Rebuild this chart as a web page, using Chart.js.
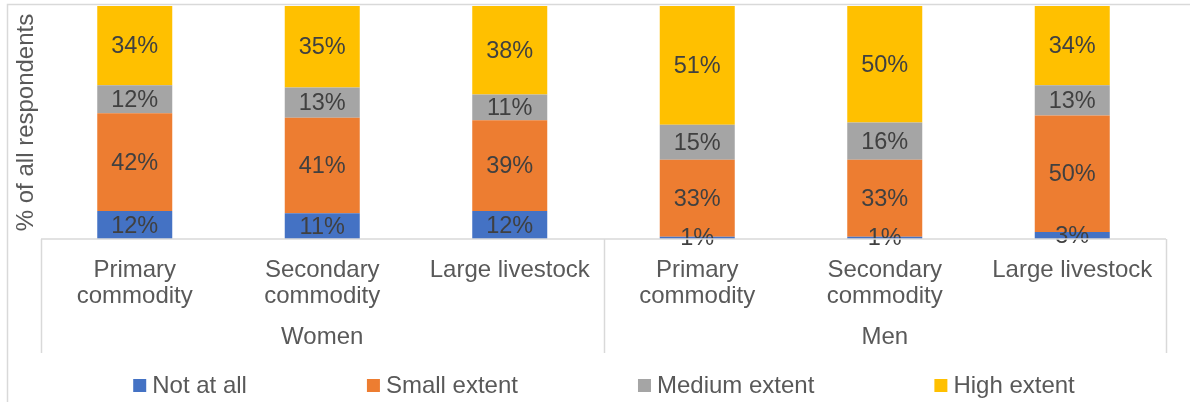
<!DOCTYPE html>
<html>
<head>
<meta charset="utf-8">
<script src="https://cdn.jsdelivr.net/npm/chart.js@4"></script>
<style>
  html, body { margin: 0; padding: 0; background: #ffffff; }
  #wrap { width: 1190px; height: 402px; position: relative; }
</style>
</head>
<body>
<div id="wrap"><canvas id="c" width="1190" height="402"></canvas></div>
<script>
const categories = [['Primary', 'commodity'], ['Secondary', 'commodity'], 'Large livestock',
                    ['Primary', 'commodity'], ['Secondary', 'commodity'], 'Large livestock'];
const groups = ['Women', 'Men'];
const seriesNames = ['Not at all', 'Small extent', 'Medium extent', 'High extent'];
const notAtAll     = [12, 11, 12, 1, 1, 3];
const smallExtent  = [42, 41, 39, 33, 33, 50];
const mediumExtent = [12, 13, 11, 15, 16, 13];
const highExtent   = [34, 35, 38, 51, 50, 34];
const seriesColors = ['#4472C4', '#ED7D31', '#A5A5A5', '#FFC000'];
const yAxisTitle = '% of all respondents';

const FONT = '"Liberation Sans", Arial, Helvetica, sans-serif';
const FS = 24;
const FS_LABEL = 23.5;
const AXIS_TXT = '#595959';
const LABEL_TXT = '#404040';
const LINE = '#d9d9d9';

const seriesValues = [notAtAll, smallExtent, mediumExtent, highExtent];

const framePlugin = {
  id: 'frame',
  beforeDraw(chart) {
    const ctx = chart.ctx;
    ctx.save();
    ctx.fillStyle = '#ffffff';
    ctx.fillRect(0, 0, chart.width, chart.height);
    ctx.strokeStyle = LINE;
    ctx.lineWidth = 1.5;
    ctx.beginPath();
    ctx.moveTo(7.5, chart.height);
    ctx.lineTo(7.5, 4.5);
    ctx.lineTo(chart.width, 4.5);
    ctx.stroke();
    ctx.restore();
  }
};

const axisBoxPlugin = {
  id: 'axisBox',
  afterDraw(chart) {
    const x = chart.scales.x;
    const ctx = chart.ctx;
    const top = x.top;
    const bottom = x.top + 114;
    const mid = (x.getPixelForValue(2) + x.getPixelForValue(3)) / 2;
    ctx.save();
    ctx.strokeStyle = LINE;
    ctx.lineWidth = 1.5;
    ctx.beginPath();
    ctx.moveTo(x.left, top);
    ctx.lineTo(x.right, top);
    [x.left, mid, x.right].forEach(px => {
      ctx.moveTo(Math.round(px) + 0.5, top);
      ctx.lineTo(Math.round(px) + 0.5, bottom);
    });
    ctx.stroke();
    ctx.restore();
  }
};

const dataLabelPlugin = {
  id: 'dataLabels',
  afterDatasetsDraw(chart) {
    const ctx = chart.ctx;
    ctx.save();
    ctx.font = FS_LABEL + 'px ' + FONT;
    ctx.fillStyle = LABEL_TXT;
    ctx.textAlign = 'center';
    ctx.textBaseline = 'middle';
    chart.data.datasets.forEach((ds, di) => {
      const meta = chart.getDatasetMeta(di);
      meta.data.forEach((el, i) => {
        const v = ds.data[i];
        const cy = (el.y + el.base) / 2;
        ctx.fillText(v + '%', el.x, cy + 1);
      });
    });
    ctx.restore();
  }
};

const legendPlugin = {
  id: 'customLegend',
  afterDraw(chart) {
    const ctx = chart.ctx;
    ctx.save();
    ctx.font = FS + 'px ' + FONT;
    ctx.textBaseline = 'middle';
    ctx.textAlign = 'left';
    const box = 13, gapBox = 6, gapItem = 120;
    const items = chart.data.datasets.map(ds => ({
      text: ds.label, color: ds.backgroundColor, w: ctx.measureText(ds.label).width
    }));
    const total = items.reduce((s, it) => s + box + gapBox + it.w, 0) + gapItem * (items.length - 1);
    let cx = 604 - total / 2;
    const cy = 385.5;
    items.forEach(it => {
      ctx.fillStyle = it.color;
      ctx.fillRect(cx, cy - 6.5, box, box);
      ctx.fillStyle = AXIS_TXT;
      ctx.fillText(it.text, cx + box + gapBox, cy + 1);
      cx += box + gapBox + it.w + gapItem;
    });
    ctx.restore();
  }
};

new Chart(document.getElementById('c'), {
  type: 'bar',
  data: {
    labels: categories,
    datasets: seriesNames.map((name, k) => ({
      label: name,
      data: seriesValues[k],
      backgroundColor: seriesColors[k],
      borderWidth: 0,
      barPercentage: 1.0,
      categoryPercentage: 0.4
    }))
  },
  options: {
    responsive: false,
    animation: false,
    devicePixelRatio: 1,
    layout: { padding: { top: 6, left: 0, right: 24, bottom: 43 } },
    plugins: {
      legend: { display: false },
      tooltip: { enabled: false },
      title: { display: false }
    },
    scales: {
      x: {
        stacked: true,
        position: 'bottom',
        grid: { display: false, drawTicks: false },
        border: { display: false },
        ticks: {
          autoSkip: false, maxRotation: 0, minRotation: 0, padding: 18,
          color: AXIS_TXT, font: { family: FONT, size: FS, lineHeight: 1.1 }
        },
        afterFit(scale) { scale.height = 70; }
      },
      x2: {
        type: 'category',
        position: 'bottom',
        labels: groups,
        offset: true,
        grid: { display: false, drawTicks: false },
        border: { display: false },
        ticks: {
          autoSkip: false, maxRotation: 0, minRotation: 0, padding: 15,
          color: AXIS_TXT, font: { family: FONT, size: FS, lineHeight: 1.1 }
        },
        afterFit(scale) { scale.height = 50; }
      },
      y: {
        stacked: true,
        min: 0,
        max: 100,
        grid: { display: false, drawTicks: false },
        border: { display: false },
        ticks: { display: false },
        title: {
          display: true, text: yAxisTitle, color: AXIS_TXT,
          font: { family: FONT, size: FS, lineHeight: 1.2 },
          padding: { top: 12, bottom: 0 }
        },
        afterFit(scale) { scale.width = 41; }
      }
    }
  },
  plugins: [framePlugin, axisBoxPlugin, dataLabelPlugin, legendPlugin]
});
</script>
</body>
</html>
